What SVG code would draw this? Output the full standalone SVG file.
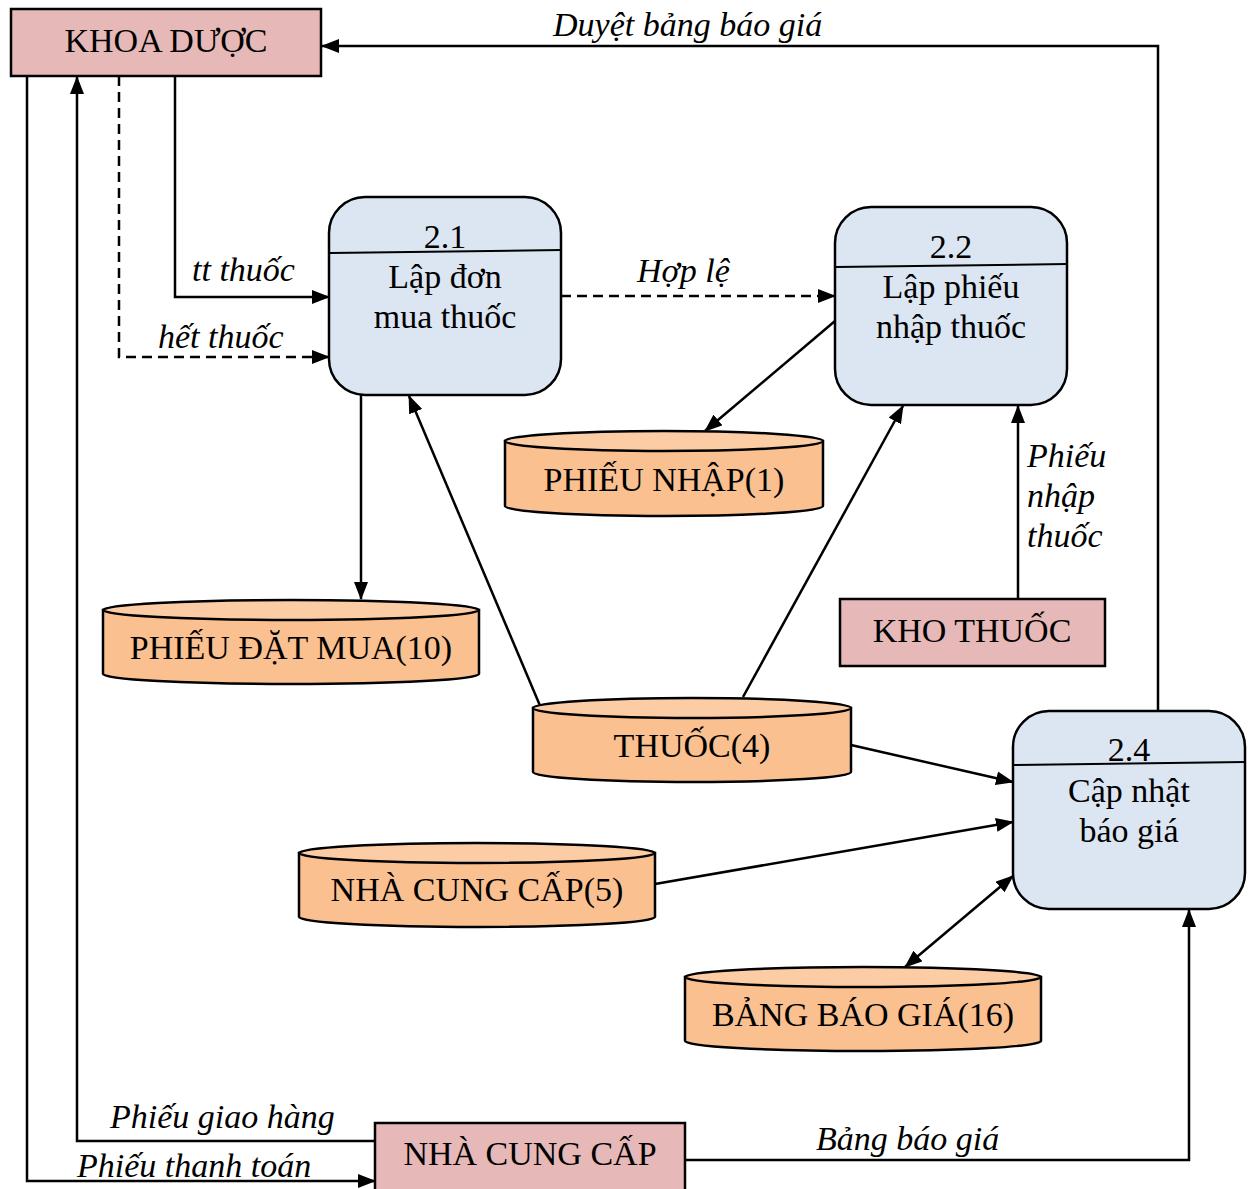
<svg xmlns="http://www.w3.org/2000/svg" width="1252" height="1189" viewBox="0 0 1252 1189">
  <style>
    text { font-family: "Liberation Serif", "Times New Roman", serif; font-size: 34px; fill: #000; }
    .c { text-anchor: middle; }
    .i { font-style: italic; }
    .ext { fill: #e6b8b7; stroke: #000; stroke-width: 2.5; }
    .proc { fill: #dce6f2; stroke: #000; stroke-width: 2.5; }
    .div { stroke: #000; stroke-width: 2; fill: none; }
    .body { fill: #fac090; stroke: #000; stroke-width: 2.5; }
    .lid { fill: #fccca4; stroke: #000; stroke-width: 2.5; }
    .flow { fill: none; stroke: #000; stroke-width: 2.5; marker-end: url(#arrow); }
    .dash { stroke-dasharray: 10 6; }
    .both { marker-start: url(#arrow); }
  </style>
  <defs>
    <marker id="arrow" markerUnits="userSpaceOnUse" markerWidth="18" markerHeight="14" viewBox="0 0 18 14" refX="17" refY="7" orient="auto-start-reverse">
      <path d="M0,0 L18,7 L0,14 z" fill="#000"/>
    </marker>
  </defs>
  <rect width="1252" height="1189" fill="#fff"/>

  <!-- data flows -->
  <g id="connectors">
    <path class="flow" d="M1158,711 V46 H322"/>
    <path class="flow" d="M27,76 V1181 H375"/>
    <path class="flow" d="M375,1141 H77 V77"/>
    <path class="flow dash" d="M119,76 V357 H329"/>
    <path class="flow" d="M175,76 V297 H329"/>
    <path class="flow dash" d="M561,296 H835"/>
    <path class="flow" d="M835,321 L705,431"/>
    <path class="flow" d="M361,395 V599"/>
    <path class="flow" d="M541,708 L409,396"/>
    <path class="flow" d="M743,697 L903,406"/>
    <path class="flow" d="M1018,599 V406"/>
    <path class="flow" d="M851,745 L1013,782"/>
    <path class="flow" d="M655,884 L1013,822"/>
    <path class="flow both" d="M905,967 L1013,876"/>
    <path class="flow" d="M685,1160 H1189 V910"/>

    <text class="i" x="553" y="36">Duyệt bảng báo giá</text>
    <text class="i" x="192" y="281">tt thuốc</text>
    <text class="i" x="158" y="348">hết thuốc</text>
    <text class="i" x="637" y="282">Hợp lệ</text>
    <text class="i" x="1027" y="467">Phiếu</text>
    <text class="i" x="1027" y="507">nhập</text>
    <text class="i" x="1027" y="547">thuốc</text>
    <text class="i" x="110" y="1128">Phiếu giao hàng</text>
    <text class="i" x="77" y="1177">Phiếu thanh toán</text>
    <text class="i" x="816" y="1150">Bảng báo giá</text>
  </g>

  <!-- external entities -->
  <g id="khoa-duoc">
    <rect class="ext" x="11" y="9" width="310" height="67"/>
    <text class="c" x="166" y="52">KHOA DƯỢC</text>
  </g>
  <g id="kho-thuoc">
    <rect class="ext" x="840" y="599" width="265" height="67"/>
    <text class="c" x="972" y="642">KHO THUỐC</text>
  </g>
  <g id="nha-cung-cap">
    <rect class="ext" x="375" y="1123" width="310" height="70"/>
    <text class="c" x="530" y="1165">NHÀ CUNG CẤP</text>
  </g>

  <!-- processes -->
  <g id="p21">
    <rect class="proc" x="329" y="197" width="232" height="198" rx="36"/>
    <path class="div" d="M330,253 L561,250"/>
    <text class="c" x="445" y="248">2.1</text>
    <text class="c" x="445" y="288">Lập đơn</text>
    <text class="c" x="445" y="328">mua thuốc</text>
  </g>
  <g id="p22">
    <rect class="proc" x="835" y="207" width="232" height="198" rx="36"/>
    <path class="div" d="M836,267 L1067,264"/>
    <text class="c" x="951" y="258">2.2</text>
    <text class="c" x="951" y="298">Lập phiếu</text>
    <text class="c" x="951" y="338">nhập thuốc</text>
  </g>
  <g id="p24">
    <rect class="proc" x="1013" y="711" width="232" height="198" rx="36"/>
    <path class="div" d="M1014,765 L1245,762"/>
    <text class="c" x="1129" y="761">2.4</text>
    <text class="c" x="1129" y="802">Cập nhật</text>
    <text class="c" x="1129" y="842">báo giá</text>
  </g>

  <!-- data stores -->
  <g id="phieu-nhap">
    <path class="body" d="M505,441 V506 A159,10 0 0 0 823,506 V441 Z"/>
    <ellipse class="lid" cx="664" cy="441" rx="159" ry="10"/>
    <text class="c" x="664" y="491">PHIẾU NHẬP(1)</text>
  </g>
  <g id="phieu-dat-mua">
    <path class="body" d="M103,610 V674 A188,10 0 0 0 479,674 V610 Z"/>
    <ellipse class="lid" cx="291" cy="610" rx="188" ry="10"/>
    <text class="c" x="291" y="659">PHIẾU ĐẶT MUA(10)</text>
  </g>
  <g id="thuoc">
    <path class="body" d="M533,708 V772 A159,10 0 0 0 851,772 V708 Z"/>
    <ellipse class="lid" cx="692" cy="708" rx="159" ry="10"/>
    <text class="c" x="692" y="757">THUỐC(4)</text>
  </g>
  <g id="nha-cung-cap-5">
    <path class="body" d="M299,853 V917 A178,10 0 0 0 655,917 V853 Z"/>
    <ellipse class="lid" cx="477" cy="853" rx="178" ry="10"/>
    <text class="c" x="477" y="901">NHÀ CUNG CẤP(5)</text>
  </g>
  <g id="bang-bao-gia">
    <path class="body" d="M685,977 V1041 A178,10 0 0 0 1041,1041 V977 Z"/>
    <ellipse class="lid" cx="863" cy="977" rx="178" ry="10"/>
    <text class="c" x="863" y="1026">BẢNG BÁO GIÁ(16)</text>
  </g>
</svg>
